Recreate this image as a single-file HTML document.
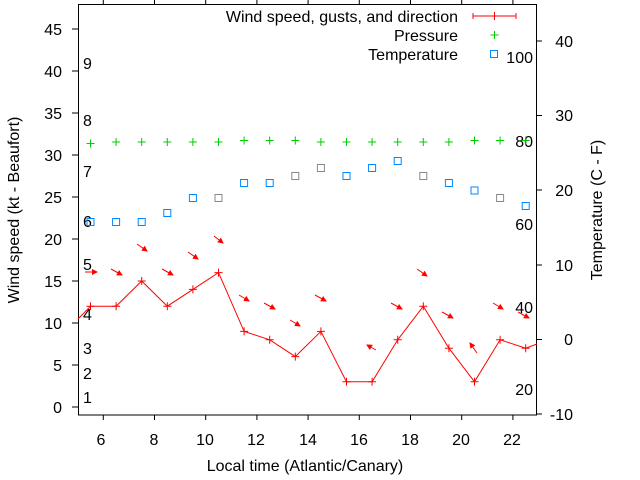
<!DOCTYPE html>
<html><head><meta charset="utf-8"><style>body{margin:0;background:#fff}svg{display:block}text{font-family:"Liberation Sans",sans-serif;font-size:16px;fill:#000}</style></head><body>
<svg width="640" height="480" viewBox="0 0 640 480" xmlns="http://www.w3.org/2000/svg">
<defs><marker id="ah" markerWidth="6" markerHeight="6" refX="5" refY="3" orient="auto" markerUnits="userSpaceOnUse"><path d="M0,0 L6,3 L0,6 z" fill="#f00"/></marker></defs>
<rect x="78.5" y="4.5" width="458" height="410.5" fill="none" stroke="#000"/>
<g stroke="#000">
<path d="M72,407H78M72,365H78M72,323H78M72,281H78M72,239H78M72,197H78M72,155H78M72,113H78M72,71H78M72,29H78"/>
<path d="M537,414H542M537,339.5H542M537,265H542M537,190H542M537,115.5H542M537,41H542"/>
<path d="M103.3,415V420M154.5,415V420M205.7,415V420M256.9,415V420M308.1,415V420M359.3,415V420M410.5,415V420M461.7,415V420M512.9,415V420"/>
<path d="M103.3,0V4M154.5,0V4M205.7,0V4M256.9,0V4M308.1,0V4M359.3,0V4M410.5,0V4M461.7,0V4M512.9,0V4"/>
</g>
<g text-anchor="end">
<text x="62" y="413">0</text><text x="62" y="371">5</text><text x="62" y="329">10</text><text x="62" y="287">15</text><text x="62" y="245">20</text><text x="62" y="203">25</text><text x="62" y="161">30</text><text x="62" y="119">35</text><text x="62" y="77">40</text><text x="62" y="35">45</text>
</g>
<g text-anchor="end">
<text x="573" y="420">-10</text><text x="573" y="345">0</text><text x="573" y="271">10</text><text x="573" y="196">20</text><text x="573" y="121">30</text><text x="573" y="47">40</text>
</g>
<g text-anchor="middle">
<text x="101" y="445">6</text><text x="154" y="445">8</text><text x="205" y="445">10</text><text x="256" y="445">12</text><text x="308" y="445">14</text><text x="359" y="445">16</text><text x="410" y="445">18</text><text x="461" y="445">20</text><text x="512" y="445">22</text>
</g>
<text x="305" y="471" text-anchor="middle">Local time (Atlantic/Canary)</text>
<text transform="translate(19,210) rotate(-90)" text-anchor="middle">Wind speed (kt - Beaufort)</text>
<text transform="translate(602,210) rotate(-90)" text-anchor="middle">Temperature (C - F)</text>
<g fill="#222">
<text x="83" y="403">1</text><text x="83" y="379">2</text><text x="83" y="354">3</text><text x="83" y="320">4</text><text x="83" y="270">5</text><text x="83" y="227">6</text><text x="83" y="177">7</text><text x="83" y="126">8</text><text x="83" y="69">9</text>
</g>
<g text-anchor="end">
<text x="533" y="63">100</text><text x="533" y="147">80</text><text x="533" y="230">60</text><text x="533" y="313">40</text><text x="533" y="395">20</text>
</g>
<g text-anchor="end">
<text x="458" y="22">Wind speed, gusts, and direction</text>
<text x="458" y="41">Pressure</text>
<text x="458" y="60">Temperature</text>
</g>
<path d="M473,16H516M473,13V19M516,13V19M494.5,12V20" stroke="#f00"/>
<path d="M490.5,35H498.5M494.5,31V39" stroke="#0c0"/>
<rect x="490.5" y="50.5" width="7" height="7" fill="none" stroke="#08f"/>
<polyline fill="none" stroke="#f00" points="78,319 90.5,306.2 116.1,306.2 141.7,281 167.3,306.2 192.9,289.4 218.5,272.6 244.1,331.4 269.7,339.8 295.3,356.6 320.9,331.4 346.5,381.8 372.1,381.8 397.7,339.8 423.3,306.2 448.9,348.2 474.5,381.8 500.1,339.8 525.7,348.2 537,344"/>
<g stroke="#f00">
<path d="M86.5,306.2h8m-4,-4v8M112.1,306.2h8m-4,-4v8M137.7,281h8m-4,-4v8M163.3,306.2h8m-4,-4v8M188.9,289.4h8m-4,-4v8M214.5,272.6h8m-4,-4v8M240.1,331.4h8m-4,-4v8M265.7,339.8h8m-4,-4v8M291.3,356.6h8m-4,-4v8M316.9,331.4h8m-4,-4v8M342.5,381.8h8m-4,-4v8M368.1,381.8h8m-4,-4v8M393.7,339.8h8m-4,-4v8M419.3,306.2h8m-4,-4v8M444.9,348.2h8m-4,-4v8M470.5,381.8h8m-4,-4v8M496.1,339.8h8m-4,-4v8M521.7,348.2h8m-4,-4v8"/>
</g>
<g stroke="#f00" stroke-width="1" marker-end="url(#ah)">
<line x1="85" y1="272" x2="97" y2="272"/>
<line x1="111" y1="269" x2="122" y2="275"/>
<line x1="137" y1="244" x2="147" y2="251"/>
<line x1="162" y1="269" x2="173" y2="275"/>
<line x1="188" y1="252" x2="198" y2="259"/>
<line x1="214" y1="236" x2="223" y2="243"/>
<line x1="239" y1="295" x2="249" y2="301"/>
<line x1="264" y1="303" x2="275" y2="309"/>
<line x1="290" y1="320" x2="300" y2="326"/>
<line x1="315" y1="295" x2="326" y2="301"/>
<line x1="376" y1="350" x2="367" y2="345"/>
<line x1="391" y1="303" x2="402" y2="309"/>
<line x1="417" y1="269" x2="427" y2="276"/>
<line x1="442" y1="312" x2="453" y2="318"/>
<line x1="477" y1="353" x2="470" y2="343"/>
<line x1="493" y1="303" x2="503" y2="309"/>
<line x1="518" y1="312" x2="529" y2="318"/>
</g>
<g stroke="#0c0">
<path d="M86.5,143.5h8m-4,-4v8M112.1,142h8m-4,-4v8M137.7,142h8m-4,-4v8M163.3,142h8m-4,-4v8M188.9,142h8m-4,-4v8M214.5,142h8m-4,-4v8M240.1,140.5h8m-4,-4v8M265.7,140.5h8m-4,-4v8M291.3,140.5h8m-4,-4v8M316.9,142h8m-4,-4v8M342.5,142h8m-4,-4v8M368.1,142h8m-4,-4v8M393.7,142h8m-4,-4v8M419.3,142h8m-4,-4v8M444.9,142h8m-4,-4v8M470.5,140.5h8m-4,-4v8M496.1,140.5h8m-4,-4v8M521.7,140.5h8m-4,-4v8"/>
</g>
<g fill="none" stroke="#08f">
<rect x="87" y="218.5" width="7" height="7"/><rect x="112.6" y="218.5" width="7" height="7"/><rect x="138.2" y="218.5" width="7" height="7"/><rect x="163.8" y="209.5" width="7" height="7"/><rect x="189.4" y="194.5" width="7" height="7"/><rect x="215" y="194.5" width="7" height="7" stroke="#888"/><rect x="240.6" y="179.5" width="7" height="7"/><rect x="266.2" y="179.5" width="7" height="7"/><rect x="291.8" y="172.5" width="7" height="7" stroke="#888"/><rect x="317.4" y="164.5" width="7" height="7" stroke="#888"/><rect x="343" y="172.5" width="7" height="7"/><rect x="368.6" y="164.5" width="7" height="7"/><rect x="394.2" y="157.5" width="7" height="7"/><rect x="419.8" y="172.5" width="7" height="7" stroke="#888"/><rect x="445.4" y="179.5" width="7" height="7"/><rect x="471" y="187" width="7" height="7"/><rect x="496.6" y="194.5" width="7" height="7" stroke="#888"/><rect x="522.2" y="202.5" width="7" height="7"/>
</g>
</svg>
</body></html>
